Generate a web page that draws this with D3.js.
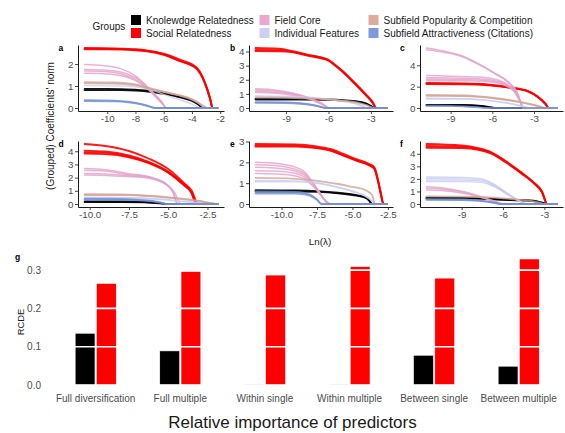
<!DOCTYPE html>
<html><head><meta charset="utf-8">
<script src="https://cdn.jsdelivr.net/npm/d3@7"></script>
<style>
body{margin:0;background:#fff}
svg text{font-family:"Liberation Sans",Arial,sans-serif}
</style></head><body>
<svg id="chart" width="565" height="433"></svg>
<script>
// ---- groups ----
const groupNames = ["Knolewdge Relatedness","Social Relatedness","Field Core","Individual Features","Subfield Popularity & Competition","Subfield Attractiveness (Citations)"];
const groupColors = ["#000000","#ff0000","#e5a0c8","#c7ccf3","#d5a395","#6f8fd7"];

// ---- panel a: coefficient paths, [ln(lambda), grouped norm] ----
const aKnowledge = [
 [[-11.6,0.87],[-9,0.86],[-8,0.83],[-7,0.78],[-6,0.67],[-5,0.54],[-4,0.35],[-3.5,0.16],[-3.2,0],[-2.2,0]],
 [[-11.6,0.81],[-9,0.81],[-8,0.79],[-7,0.74],[-6,0.64],[-5,0.51],[-4,0.32],[-3.5,0.13],[-3.25,0],[-2.2,0]]];
const aSocial = [
 [[-11.6,2.73],[-9,2.7],[-8,2.67],[-7.2,2.62],[-6,2.47],[-4.85,2.2],[-3.67,1.85],[-3.07,1.15],[-2.72,0.46],[-2.53,0],[-2.2,0]],
 [[-11.6,2.7],[-9,2.68],[-8,2.65],[-7.2,2.6],[-6,2.44],[-4.85,2.15],[-3.67,1.78],[-3.07,1.1],[-2.72,0.42],[-2.55,0],[-2.2,0]],
 [[-11.6,2.67],[-9,2.66],[-8,2.63],[-7.2,2.58],[-6,2.42],[-4.85,2.13],[-3.67,1.8],[-3.07,1.12],[-2.72,0.44],[-2.52,0],[-2.2,0]]];
const aField = [
 [[-11.6,1.98],[-10.3,1.93],[-9,1.78],[-8,1.46],[-7.2,1.0],[-6.6,0.61],[-6.1,0.25],[-5.8,0],[-2.2,0]],
 [[-11.6,1.75],[-10,1.72],[-9,1.63],[-8,1.38],[-7.2,0.98],[-6.6,0.58],[-6.1,0.22],[-5.8,0],[-2.2,0]],
 [[-11.6,1.68],[-10,1.65],[-9,1.55],[-8,1.3],[-7.2,0.92],[-6.6,0.55],[-6.1,0.2],[-5.8,0],[-2.2,0]],
 [[-11.6,1.58],[-10,1.55],[-9,1.47],[-8,1.25],[-7.2,0.9],[-6.6,0.52],[-6.1,0.2],[-5.8,0],[-2.2,0]]];
const aIndividual = [
 [[-11.6,1.02],[-9,1.0],[-8,0.97],[-7,0.85],[-6,0.62],[-5,0.4],[-4,0.18],[-3.5,0.03],[-3.4,0],[-2.2,0]]];
const aPopularity = [
 [[-11.6,1.18],[-9.5,1.16],[-8,1.07],[-7,0.9],[-6,0.75],[-5,0.6],[-4,0.4],[-3.5,0.22],[-3,0.02],[-2.95,0],[-2.2,0]],
 [[-11.6,1.12],[-9.5,1.11],[-8,1.04],[-7,0.88],[-6,0.73],[-5,0.58],[-4,0.38],[-3.5,0.2],[-3.02,0],[-2.2,0]]];
const aAttract = [
 [[-11.6,0.36],[-9.5,0.34],[-8.5,0.29],[-7.5,0.17],[-7,0.08],[-6.6,0],[-2.2,0]],
 [[-11.6,0.31],[-9.5,0.3],[-8.5,0.26],[-7.5,0.15],[-7,0.06],[-6.65,0],[-2.2,0]]];

// ---- panel b ----
const bKnowledge = [
 [[-11.16,0.66],[-8,0.65],[-6,0.61],[-5,0.56],[-3.94,0.47],[-3.5,0.38],[-3.24,0.28],[-2.65,0],[-1.9,0]],
 [[-11.16,0.6],[-8,0.6],[-6,0.57],[-5,0.52],[-3.94,0.43],[-3.5,0.35],[-3.24,0.25],[-2.68,0],[-1.9,0]]];
const bSocial = [
 [[-11.16,4.25],[-9.5,4.2],[-8.5,4.02],[-7.5,3.78],[-6.5,3.58],[-6,3.42],[-5.6,3.12],[-5,2.62],[-4.4,2.05],[-3.5,1.12],[-2.9,0.45],[-2.6,0],[-1.9,0]],
 [[-11.16,4.12],[-9.5,4.1],[-8.5,3.98],[-7.5,3.75],[-6.5,3.55],[-6,3.38],[-5.6,3.08],[-5,2.58],[-4.4,2.0],[-3.5,1.08],[-2.9,0.42],[-2.62,0],[-1.9,0]],
 [[-11.16,4.04],[-9.5,4.02],[-8.5,3.94],[-7.5,3.72],[-6.5,3.52],[-6,3.36],[-5.6,3.06],[-5,2.56],[-4.4,1.98],[-3.5,1.06],[-2.9,0.4],[-2.63,0],[-1.9,0]]];
const bField = [
 [[-11.16,1.36],[-10,1.3],[-9,1.15],[-8,0.92],[-7,0.58],[-6.5,0.34],[-5.93,0],[-1.9,0]],
 [[-11.16,1.27],[-10,1.22],[-9,1.1],[-8,0.88],[-7,0.55],[-6.5,0.32],[-5.95,0],[-1.9,0]],
 [[-11.16,1.18],[-10,1.14],[-9,1.04],[-8,0.84],[-7,0.52],[-6.5,0.3],[-5.95,0],[-1.9,0]],
 [[-11.16,1.1],[-10,1.07],[-9,0.98],[-8,0.8],[-7,0.5],[-6.5,0.28],[-5.97,0],[-1.9,0]]];
const bIndividual = [
 [[-11.16,0.86],[-9,0.83],[-7,0.73],[-6,0.63],[-5,0.5],[-4,0.3],[-3.5,0.1],[-3.3,0],[-1.9,0]],
 [[-11.16,0.8],[-9,0.78],[-7,0.7],[-6,0.6],[-5,0.47],[-4,0.27],[-3.5,0.08],[-3.32,0],[-1.9,0]]];
const bPopularity = [
 [[-11.16,0.74],[-9,0.72],[-7,0.66],[-6,0.6],[-5,0.52],[-4,0.4],[-3.3,0.2],[-2.8,0.02],[-2.7,0],[-1.9,0]]];
const bAttract = [
 [[-11.16,0.42],[-9,0.4],[-8,0.34],[-7,0.2],[-6.5,0.08],[-6.2,0],[-1.9,0]],
 [[-11.16,0.36],[-9,0.35],[-8,0.3],[-7,0.17],[-6.5,0.06],[-6.25,0],[-1.9,0]]];

// ---- panel c ----
const cKnowledge = [
 [[-10.74,0.3],[-8,0.28],[-7,0.23],[-6.3,0.1],[-5.8,0],[-1.38,0]],
 [[-10.74,0.25],[-8,0.24],[-7,0.2],[-6.3,0.08],[-5.85,0],[-1.38,0]]];
const cSocial = [
 [[-10.74,2.34],[-8,2.3],[-6.5,2.22],[-5.5,2.08],[-4.67,1.92],[-3.5,1.62],[-2.76,1.1],[-2.16,0.38],[-1.93,0],[-1.38,0]],
 [[-10.74,2.28],[-8,2.26],[-6.5,2.19],[-5.5,2.05],[-4.67,1.9],[-3.5,1.6],[-2.76,1.07],[-2.16,0.36],[-1.94,0],[-1.38,0]],
 [[-10.74,2.24],[-8,2.22],[-6.5,2.16],[-5.5,2.03],[-4.67,1.87],[-3.5,1.57],[-2.76,1.05],[-2.16,0.34],[-1.95,0],[-1.38,0]]];
const cField = [
 [[-10.74,5.62],[-9.2,5.25],[-8.2,4.9],[-7,4.15],[-5.86,3.3],[-4.9,2.5],[-4.2,1.45],[-3.76,0],[-1.38,0]],
 [[-10.74,5.45],[-9.2,5.15],[-8.2,4.82],[-7,4.08],[-5.86,3.25],[-4.9,2.45],[-4.2,1.4],[-3.78,0],[-1.38,0]],
 [[-10.74,3.05],[-9,2.98],[-7,2.9],[-6,2.75],[-5.1,2.35],[-4.4,1.65],[-4,0.7],[-3.75,0],[-1.38,0]],
 [[-10.74,2.84],[-9,2.8],[-7,2.75],[-6,2.62],[-5.1,2.25],[-4.4,1.6],[-4,0.66],[-3.75,0],[-1.38,0]],
 [[-10.74,2.7],[-9,2.68],[-7,2.62],[-6,2.5],[-5.1,2.18],[-4.4,1.55],[-4,0.62],[-3.76,0],[-1.38,0]],
 [[-10.74,2.55],[-9,2.55],[-7,2.52],[-6,2.42],[-5.1,2.12],[-4.4,1.5],[-4,0.6],[-3.77,0],[-1.38,0]]];
const cIndividual = [
 [[-10.74,0.92],[-8,0.88],[-7,0.81],[-6,0.67],[-5,0.49],[-4,0.23],[-3.5,0.06],[-3.3,0],[-1.38,0]],
 [[-10.74,0.85],[-8,0.83],[-7,0.77],[-6,0.64],[-5,0.46],[-4,0.21],[-3.5,0.05],[-3.32,0],[-1.38,0]]];
const cPopularity = [
 [[-10.74,1.22],[-8,1.17],[-7,1.09],[-6,0.96],[-4.7,0.73],[-3.5,0.43],[-2.6,0.15],[-2.2,0],[-1.38,0]],
 [[-10.74,1.14],[-8,1.11],[-7,1.04],[-6,0.92],[-4.7,0.7],[-3.5,0.4],[-2.6,0.13],[-2.22,0],[-1.38,0]]];
const cAttract = [
 [[-10.74,0.22],[-9,0.2],[-8,0.14],[-7,0.05],[-6.6,0],[-1.38,0]]];

// ---- panel d ----
const dKnowledge = [
 [[-10.32,0.2],[-8,0.19],[-6.5,0.15],[-5.5,0.06],[-5,0],[-1.87,0]],
 [[-10.32,0.15],[-8,0.15],[-6.5,0.12],[-5.5,0.04],[-5.05,0],[-1.87,0]]];
const dSocial = [
 [[-10.32,4.55],[-9,4.4],[-7.5,4.02],[-6.25,3.45],[-5,2.65],[-4,1.6],[-3.5,1.0],[-3.1,0],[-1.87,0]],
 [[-10.32,4.05],[-9,3.98],[-7.5,3.68],[-6.25,3.2],[-5,2.45],[-4,1.5],[-3.54,0.95],[-3.17,0],[-1.87,0]],
 [[-10.32,3.92],[-9,3.88],[-7.5,3.6],[-6.25,3.15],[-5,2.42],[-4,1.46],[-3.54,0.92],[-3.18,0],[-1.87,0]],
 [[-10.32,3.82],[-9,3.78],[-7.5,3.54],[-6.25,3.1],[-5,2.38],[-4,1.42],[-3.54,0.9],[-3.19,0],[-1.87,0]]];
const dField = [
 [[-10.32,2.69],[-9,2.6],[-7.5,2.3],[-6.25,2.08],[-5.2,1.6],[-4.7,0.95],[-4.4,0],[-1.87,0]],
 [[-10.32,2.56],[-9,2.5],[-7.5,2.22],[-6.25,2.04],[-5.2,1.57],[-4.7,0.93],[-4.4,0],[-1.87,0]],
 [[-10.32,2.31],[-9,2.27],[-7.5,2.14],[-6.25,2.0],[-5.2,1.55],[-4.7,0.92],[-4.38,0],[-1.87,0]],
 [[-10.32,2.19],[-9,2.17],[-7.5,2.08],[-6.25,1.96],[-5.2,1.52],[-4.6,0.9],[-4.2,0],[-1.87,0]]];
const dIndividual = [
 [[-10.32,0.52],[-8,0.5],[-6,0.42],[-5,0.32],[-4,0.2],[-3,0.1],[-2.2,0.02],[-2,0],[-1.87,0]],
 [[-10.32,0.46],[-8,0.45],[-6,0.38],[-5,0.29],[-4,0.18],[-3,0.08],[-2.2,0.01],[-2.05,0],[-1.87,0]]];
const dPopularity = [
 [[-10.32,0.74],[-8,0.72],[-6,0.61],[-5,0.51],[-4,0.39],[-3,0.23],[-2.5,0.12],[-2,0.02],[-1.95,0],[-1.87,0]],
 [[-10.32,0.68],[-8,0.67],[-6,0.58],[-5,0.48],[-4,0.36],[-3,0.21],[-2.5,0.1],[-2,0.01],[-1.96,0],[-1.87,0]]];
const dAttract = [
 [[-10.32,0.4],[-8,0.38],[-7,0.33],[-6,0.23],[-5.5,0.12],[-5.1,0],[-1.87,0]],
 [[-10.32,0.34],[-8,0.33],[-7,0.29],[-6,0.2],[-5.5,0.1],[-5.15,0],[-1.87,0]]];

// ---- panel e ----
const eKnowledge = [
 [[-11.83,0.66],[-9,0.65],[-7.5,0.62],[-6,0.54],[-4.7,0.43],[-4,0.3],[-3.8,0.17],[-3.62,0],[-2.6,0]],
 [[-11.83,0.6],[-9,0.6],[-7.5,0.58],[-6,0.51],[-4.7,0.4],[-4,0.27],[-3.8,0.14],[-3.64,0],[-2.6,0]]];
const eSocial = [
 [[-11.83,2.88],[-9,2.86],[-7.5,2.76],[-6.55,2.64],[-5.63,2.4],[-4.72,2.15],[-3.8,1.92],[-3.45,1.76],[-3.2,1.18],[-3.0,0.55],[-2.8,0],[-2.6,0]],
 [[-11.83,2.8],[-9,2.8],[-7.5,2.7],[-6.55,2.58],[-5.63,2.34],[-4.72,2.1],[-3.8,1.86],[-3.45,1.7],[-3.2,1.12],[-3.0,0.5],[-2.82,0],[-2.6,0]],
 [[-11.83,2.76],[-9,2.76],[-7.5,2.68],[-6.55,2.56],[-5.63,2.32],[-4.72,2.08],[-3.8,1.85],[-3.45,1.68],[-3.2,1.1],[-3.0,0.48],[-2.83,0],[-2.6,0]]];
const eField = [
 [[-11.83,2.0],[-10.5,1.96],[-9.3,1.82],[-8.4,1.56],[-7.7,0.95],[-7.2,0.45],[-6.7,0],[-2.6,0]],
 [[-11.83,1.88],[-10.5,1.85],[-9.3,1.72],[-8.4,1.48],[-7.7,0.92],[-7.2,0.44],[-6.65,0],[-2.6,0]],
 [[-11.83,1.76],[-10.5,1.73],[-9.3,1.62],[-8.4,1.4],[-7.7,0.9],[-7.2,0.42],[-6.6,0],[-2.6,0]],
 [[-11.83,1.6],[-10.5,1.58],[-9.3,1.5],[-8.4,1.3],[-7.7,0.85],[-7.2,0.4],[-6.55,0],[-2.6,0]],
 [[-11.83,1.46],[-10.5,1.44],[-9.3,1.38],[-8.4,1.2],[-7.7,0.8],[-7.2,0.38],[-6.5,0],[-2.6,0]]];
const eIndividual = [
 [[-11.83,1.13],[-9,1.11],[-8,1.07],[-7,0.96],[-6,0.81],[-5,0.63],[-4,0.36],[-3.6,0.15],[-3.4,0],[-2.6,0]],
 [[-11.83,1.07],[-9,1.06],[-8,1.03],[-7,0.93],[-6,0.78],[-5,0.6],[-4,0.33],[-3.6,0.13],[-3.42,0],[-2.6,0]]];
const ePopularity = [
 [[-11.83,1.25],[-9,1.21],[-8,1.16],[-7,1.06],[-6,0.96],[-5.2,0.85],[-4,0.64],[-3.6,0.42],[-3.5,0.18],[-3.42,0],[-2.6,0]]];
const eAttract = [
 [[-11.83,0.6],[-9,0.58],[-8.5,0.55],[-8,0.45],[-7.5,0.22],[-7.2,0],[-2.6,0]],
 [[-11.83,0.5],[-9,0.5],[-8.5,0.48],[-8,0.4],[-7.5,0.2],[-7.15,0],[-2.6,0]]];

// ---- panel f ----
const fKnowledge = [
 [[-11.55,0.5],[-9,0.49],[-7.5,0.46],[-6.5,0.39],[-5.5,0.34],[-4.5,0.31],[-3.8,0.26],[-3.2,0.12],[-2.8,0],[-2.12,0]],
 [[-11.55,0.44],[-9,0.44],[-7.5,0.42],[-6.5,0.36],[-5.5,0.31],[-4.5,0.28],[-3.8,0.23],[-3.2,0.1],[-2.82,0],[-2.12,0]]];
const fSocial = [
 [[-11.55,4.78],[-9,4.66],[-7.8,4.45],[-6.8,4.1],[-5.8,3.42],[-4.65,2.5],[-3.75,1.7],[-3.18,1.02],[-2.78,0],[-2.12,0]],
 [[-11.55,4.62],[-9,4.56],[-7.8,4.38],[-6.8,4.04],[-5.8,3.36],[-4.65,2.45],[-3.75,1.66],[-3.18,0.98],[-2.79,0],[-2.12,0]],
 [[-11.55,4.48],[-9,4.46],[-7.8,4.32],[-6.8,4.0],[-5.8,3.32],[-4.65,2.42],[-3.75,1.63],[-3.18,0.95],[-2.8,0],[-2.12,0]]];
const fField = [
 [[-11.55,1.38],[-10.5,1.3],[-9,1.02],[-7.8,0.66],[-6.8,0.3],[-6,0],[-2.12,0]],
 [[-11.55,1.25],[-10.5,1.2],[-9,0.95],[-7.8,0.62],[-6.8,0.28],[-6,0],[-2.12,0]],
 [[-11.55,1.12],[-10.5,1.08],[-9,0.88],[-7.8,0.58],[-6.8,0.26],[-5.95,0],[-2.12,0]]];
const fIndividual = [
 [[-11.55,2.15],[-9,2.12],[-7.6,2.02],[-6.6,1.55],[-5.6,0.8],[-4.9,0.32],[-4.3,0],[-2.12,0]],
 [[-11.55,2.02],[-9,2.0],[-7.6,1.92],[-6.6,1.48],[-5.6,0.76],[-4.9,0.3],[-4.3,0],[-2.12,0]],
 [[-11.55,1.9],[-9,1.9],[-7.6,1.84],[-6.6,1.42],[-5.6,0.72],[-4.9,0.28],[-4.35,0],[-2.12,0]],
 [[-11.55,1.78],[-9,1.78],[-7.6,1.72],[-6.6,1.36],[-5.6,0.7],[-4.9,0.27],[-4.35,0],[-2.12,0]]];
const fPopularity = [
 [[-11.55,0.6],[-9,0.58],[-7,0.52],[-6,0.45],[-5,0.36],[-4,0.25],[-3.3,0.1],[-3,0],[-2.12,0]]];
const fAttract = [
 [[-11.55,0.38],[-9,0.36],[-8,0.3],[-7,0.18],[-6.5,0.08],[-6.2,0],[-2.12,0]],
 [[-11.55,0.33],[-9,0.32],[-8,0.27],[-7,0.16],[-6.5,0.06],[-6.25,0],[-2.12,0]]];

// ---- tick values ----
const ticksX_a = [-10,-8,-6,-4,-2];
const ticksX_bcf = [-9,-6,-3];
const ticksX_de = [-10,-7.5,-5,-2.5];
const ticksY_a = [0,1,2];
const ticksY_bdf = [0,1,2,3,4];
const ticksY_c = [0,2,4];
const ticksY_e = [0,1,2,3];

// ---- panel g: relative importance (RCDE) ----
const rcdeCategories = ["Full diversification","Full multiple","Within single","Within multiple","Between single","Between multiple"];
const rcdeKnowledge = [0.135,0.089,0.002,0.002,0.0775,0.049];
const rcdeSocial = [0.265,0.296,0.287,0.309,0.279,0.329];
const rcdeTicks = [0,0.1,0.2,0.3];

const svg = d3.select("#chart");
const tickGray = "#4d4d4d";

// ---------- legend ----------
const legend = svg.append("g");
legend.append("text").attr("x",92.5).attr("y",30).attr("font-size",10).attr("fill","#1a1a1a").text("Groups");
const legCols = [131, 259.5, 368.5];
groupNames.forEach((name,i)=>{
  const col = Math.floor(i/2), row = i%2;
  const kx = legCols[col], ky = 15 + row*13;
  legend.append("rect").attr("x",kx).attr("y",ky).attr("width",10).attr("height",10).attr("fill",groupColors[i]).attr("opacity", i<2?1:0.9);
  legend.append("text").attr("x",kx+15).attr("y",ky+8.6).attr("font-size",10).attr("fill","#1a1a1a").text(name);
});

// ---------- coefficient path panels ----------
const panels = [
  {id:"a", groups:[aKnowledge,aSocial,aField,aIndividual,aPopularity,aAttract], tx:ticksX_a, ty:ticksY_a, fx:d3.format("d")},
  {id:"b", groups:[bKnowledge,bSocial,bField,bIndividual,bPopularity,bAttract], tx:ticksX_bcf, ty:ticksY_bdf, fx:d3.format("d")},
  {id:"c", groups:[cKnowledge,cSocial,cField,cIndividual,cPopularity,cAttract], tx:ticksX_bcf, ty:ticksY_c, fx:d3.format("d")},
  {id:"d", groups:[dKnowledge,dSocial,dField,dIndividual,dPopularity,dAttract], tx:ticksX_de, ty:ticksY_bdf, fx:d3.format(".1f")},
  {id:"e", groups:[eKnowledge,eSocial,eField,eIndividual,ePopularity,eAttract], tx:ticksX_de, ty:ticksY_e, fx:d3.format(".1f")},
  {id:"f", groups:[fKnowledge,fSocial,fField,fIndividual,fPopularity,fAttract], tx:ticksX_bcf, ty:ticksY_bdf, fx:d3.format("d")}
];
const colRanges = [[78,224],[249,393],[420,563]];
const rowRanges = [[45,111],[141,207]];
const hyphen = s => s.replace("\u2212","-");

panels.forEach((p,i)=>{
  const [x0,x1] = colRanges[i%3], [y0,y1] = rowRanges[Math.floor(i/3)];
  const pts = p.groups.flat(2);
  const xe = d3.extent(pts, d=>d[0]), ymax = d3.max(pts, d=>d[1]);
  const xp = (xe[1]-xe[0])*0.05, yp = ymax*0.05;
  const x = d3.scaleLinear().domain([xe[0]-xp, xe[1]+xp]).range([x0,x1]);
  const y = d3.scaleLinear().domain([-yp, ymax+yp]).range([y1,y0]);
  const g = svg.append("g");
  const line = d3.line().x(d=>x(d[0])).y(d=>y(d[1])).curve(d3.curveMonotoneX);
  p.groups.forEach((lines,gi)=>{
    lines.forEach(l=>{
      g.append("path").attr("d",line(l)).attr("fill","none")
        .attr("stroke",groupColors[gi])
        .attr("stroke-width", gi===1?1.9:(gi===2?1.5:(gi===3?1.4:1.8)))
        .attr("stroke-opacity", gi===1||gi===0?0.9:0.8)
        .attr("stroke-linejoin","round").attr("stroke-linecap","round");
    });
  });
  const ax = g.append("g").attr("transform",`translate(0,${y1})`)
    .call(d3.axisBottom(x).tickValues(p.tx).tickFormat(v=>hyphen(p.fx(v))).tickSize(3).tickSizeOuter(0).tickPadding(1.5));
  const ay = g.append("g").attr("transform",`translate(${x0},0)`)
    .call(d3.axisLeft(y).tickValues(p.ty).tickFormat(d3.format("d")).tickSize(3).tickSizeOuter(0).tickPadding(1.5));
  [ax,ay].forEach(a=>{
    a.select(".domain").attr("stroke","#000").attr("stroke-width",0.9);
    a.selectAll(".tick line").attr("stroke","#333").attr("stroke-width",0.9);
    a.selectAll(".tick text").attr("fill",tickGray).attr("font-size",9.8).attr("font-family","Liberation Sans, Arial, sans-serif");
  });
  g.append("text").attr("x", i%3===0?58.5:(i%3===1?230:400)).attr("y", y0+5.5)
    .attr("font-size",8.5).attr("font-weight","bold").text(p.id);
});

svg.append("text").attr("transform","translate(53.5,126) rotate(-90)").attr("text-anchor","middle")
  .attr("font-size",10).attr("fill","#1a1a1a").text("(Grouped) Coefficients' norm");
svg.append("text").attr("x",320).attr("y",244.5).attr("text-anchor","middle")
  .attr("font-size",9.8).attr("fill","#1a1a1a").text("Ln(\u03bb)");

// ---------- panel g: bars ----------
const gx = d3.scaleBand().domain(rcdeCategories).range([44.9,569.5]).paddingInner(0.515).paddingOuter(0.358);
const gsub = d3.scaleBand().domain([0,1]).range([0,gx.bandwidth()]).paddingInner(0.07);
const gmax = d3.max(rcdeSocial), gpad = gmax*0.05;
const gy = d3.scaleLinear().domain([-gpad, gmax+gpad]).range([391.3,252.7]);
const gg = svg.append("g");
[rcdeKnowledge, rcdeSocial].forEach((vals,si)=>{
  gg.selectAll(null).data(vals).join("rect")
    .attr("x",(d,k)=>gx(rcdeCategories[k])+gsub(si))
    .attr("width",gsub.bandwidth())
    .attr("y",d=>gy(d)).attr("height",d=>gy(0)-gy(d))
    .attr("fill",groupColors[si]).attr("stroke","#fff").attr("stroke-width",0.5);
});
// grid drawn over the bars
gg.selectAll(null).data(rcdeTicks).join("line")
  .attr("x1",44.9).attr("x2",565).attr("y1",d=>gy(d)).attr("y2",d=>gy(d))
  .attr("stroke","#fff").attr("stroke-width",1.6);
gg.selectAll(null).data(rcdeTicks).join("text")
  .attr("x",41).attr("y",d=>gy(d)+3.5).attr("text-anchor","end")
  .attr("font-size",10).attr("fill",tickGray).text(d3.format(".1f"));
gg.selectAll(null).data(rcdeCategories).join("text")
  .attr("x",d=>gx(d)+gx.bandwidth()/2).attr("y",401.5).attr("text-anchor","middle")
  .attr("font-size",10).attr("fill",tickGray).text(d=>d);
svg.append("text").attr("transform","translate(23.5,322) rotate(-90)").attr("text-anchor","middle")
  .attr("font-size",9.4).attr("fill","#1a1a1a").text("RCDE");
svg.append("text").attr("x",15).attr("y",260).attr("font-size",8.5).attr("font-weight","bold").text("g");
svg.append("text").attr("x",292.5).attr("y",428).attr("text-anchor","middle")
  .attr("font-family","'Open Sans', 'Noto Sans', sans-serif").attr("font-size",17).attr("fill","#1a1a1a")
  .text("Relative importance of predictors");
</script>
</body></html>
